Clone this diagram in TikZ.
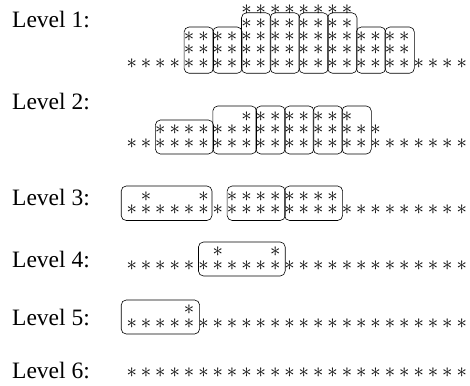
\documentclass[tikz,border=0pt]{standalone}
\usepackage{fontspec}
\setmainfont{Liberation Serif}
\newcommand\astrow[3]{\foreach \c in {#3} {\node[ast] (#1-\c) at ({131.7+14.35*\c},#2) {$\ast$};}}
\newcommand\grpbox[6]{\draw[grp] ({131.7+14.35*#1-#3},#5) rectangle ({131.7+14.35*#2+#4},#6);}
\begin{document}
\begin{tikzpicture}[x=1pt,y=-1pt,
  ast/.style={inner sep=0pt, font=\fontsize{20}{20}\selectfont},
  lbl/.style={anchor=base west, inner sep=0pt, font=\fontsize{23.5}{23.5}\selectfont},
  grp/.style={draw=black, line width=0.6pt, rounded corners=5pt}]
\useasboundingbox (0,0) rectangle (470,385);
% labels
\node[lbl] (lab1) at (12,27.8) {Level 1:};
\node[lbl] (lab2) at (12,109.8) {Level 2:};
\node[lbl] (lab3) at (12,205.5) {Level 3:};
\node[lbl] (lab4) at (12,267.8) {Level 4:};
\node[lbl] (lab5) at (12,325.8) {Level 5:};
\node[lbl] (lab6) at (12,378.8) {Level 6:};
% Level 1
\astrow{a1r0}{63.3}{0,...,23}
\astrow{a1r1}{50}{4,...,19}
\astrow{a1r2}{36.7}{4,...,19}
\astrow{a1r3}{23.3}{8,...,15}
\astrow{a1r4}{9.5}{8,...,15}
\grpbox{4}{5}{5}{10}{27}{73.3}
\grpbox{6}{7}{5}{10}{27}{73.3}
\grpbox{8}{9}{5}{10}{12.8}{73.3}
\grpbox{10}{11}{5}{10}{12.8}{73.3}
\grpbox{12}{13}{5}{10}{12.8}{73.3}
\grpbox{14}{15}{5}{10}{12.8}{73.3}
\grpbox{16}{17}{5}{10}{27}{73.3}
\grpbox{18}{19}{5}{10}{27}{73.3}
% Level 2
\astrow{a2r0}{143.5}{0,...,23}
\astrow{a2r1}{130}{2,...,17}
\astrow{a2r2}{116.5}{8,...,15}
\grpbox{2}{5}{5}{10}{120}{154}
\grpbox{6}{8}{5}{10}{106}{154}
\grpbox{9}{10}{5}{10}{106}{154}
\grpbox{11}{12}{5}{10}{106}{154}
\grpbox{13}{14}{5}{10}{106}{154}
\grpbox{15}{16}{5}{10}{106}{154}
% Level 3
\astrow{a3r0}{210}{0,...,23}
\astrow{a3r1}{196.5}{1,5,7,8,9,10,11,12,13,14}
\grpbox{0}{5}{10.5}{8.5}{186}{220.5}
\grpbox{7}{10}{5}{10}{186}{220.5}
\grpbox{11}{14}{5}{10}{186}{220.5}
% Level 4
\astrow{a4r0}{265.5}{0,...,23}
\astrow{a4r1}{252}{6,10}
\grpbox{5}{10}{5}{10}{242}{276}
% Level 5
\astrow{a5r0}{323.5}{0,...,23}
\astrow{a5r1}{310}{4}
\grpbox{0}{4}{10.5}{10.5}{300}{334}
% Level 6
\astrow{a6r0}{373}{0,...,23}
\end{tikzpicture}
\end{document}
